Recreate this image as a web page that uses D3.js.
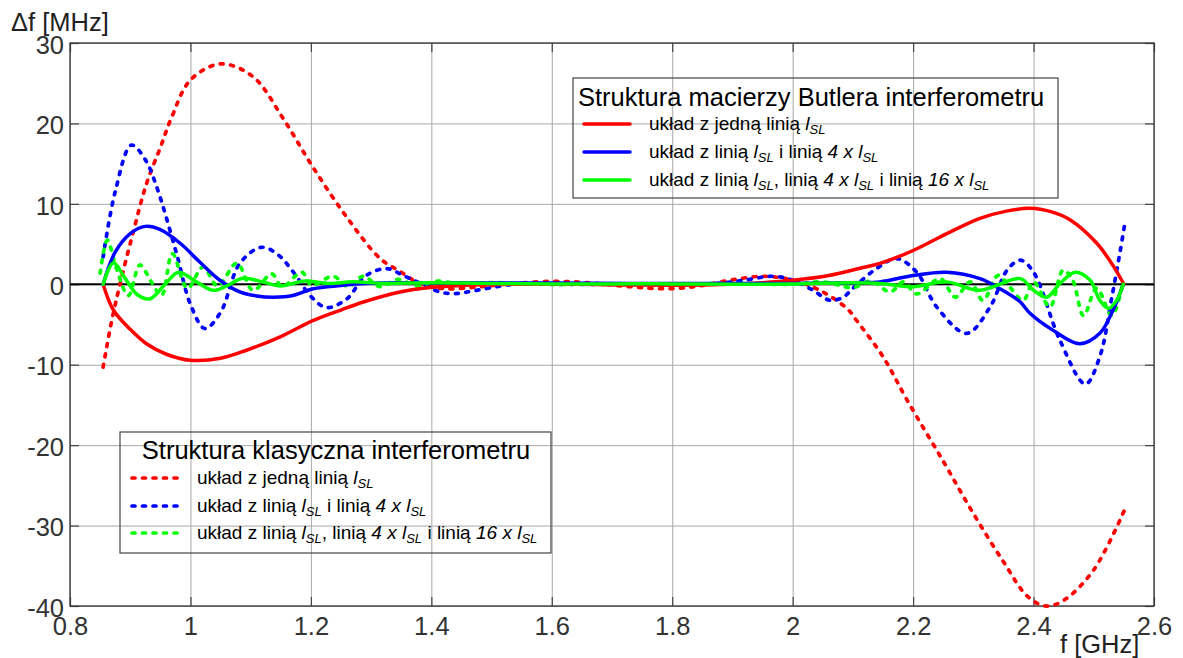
<!DOCTYPE html>
<html>
<head>
<meta charset="utf-8">
<script src="https://cdn.jsdelivr.net/npm/d3@7"></script>
<style>
body { margin: 0; background: #fff; }
text { font-family: "Liberation Sans", Arial, sans-serif; }
</style>
</head>
<body>
<script>
// tick values and labels
var xTicks = [0.8, 1.0, 1.2, 1.4, 1.6, 1.8, 2.0, 2.2, 2.4, 2.6];
var xTickLabels = ["0.8", "1", "1.2", "1.4", "1.6", "1.8", "2", "2.2", "2.4", "2.6"];
var yTicks = [-40, -30, -20, -10, 0, 10, 20, 30];
var yTickLabels = ["-40", "-30", "-20", "-10", "0", "10", "20", "30"];

// klasyczna, jedna linia (red dashed)
var redDashF = [0.855, 0.868, 0.883, 0.905, 0.927, 0.95, 0.969, 1.0, 1.05, 1.104, 1.154, 1.203, 1.26, 1.315, 1.348, 1.381, 1.425, 1.481, 1.536, 1.602, 1.658, 1.73, 1.791, 1.841, 1.896, 1.951, 2.0, 2.045, 2.09, 2.106, 2.15, 2.19, 2.25, 2.3, 2.35, 2.39, 2.42, 2.45, 2.5, 2.552];
var redDashV = [-10.3, -5, 0, 6.5, 12.5, 17, 20.8, 25.4, 27.4, 25.8, 20.6, 14.6, 8.3, 3.2, 1.6, 0.1, -0.55, -0.3, 0.1, 0.37, 0.2, -0.3, -0.55, -0.25, 0.5, 1.0, 0.5, -0.75, -3.0, -4.5, -9, -14.4, -22, -28.5, -34.5, -38.8, -40, -39.3, -35.5, -27.9];

// Butler, jedna linia (red solid)
var redSolidF = [0.855, 0.872, 0.9, 0.927, 0.96, 1.0, 1.05, 1.093, 1.15, 1.204, 1.25, 1.287, 1.348, 1.398, 1.45, 1.536, 1.65, 1.75, 1.868, 1.95, 2.0, 2.06, 2.112, 2.145, 2.2, 2.256, 2.311, 2.355, 2.394, 2.43, 2.461, 2.505, 2.533, 2.55];
var redSolidV = [0, -3.2, -5.6, -7.4, -8.7, -9.45, -9.2, -8.2, -6.5, -4.5, -3.2, -2.2, -0.95, -0.4, -0.15, 0, 0, -0.1, -0.05, 0.2, 0.5, 1.1, 2.0, 2.6, 4.2, 6.3, 8.2, 9.1, 9.45, 9.0, 8.0, 5.1, 2.2, 0];

// klasyczna, l i 4l (blue dashed)
var blueDashF = [0.855, 0.875, 0.902, 0.925, 0.944, 0.977, 1.0, 1.024, 1.05, 1.082, 1.118, 1.145, 1.171, 1.2, 1.226, 1.26, 1.29, 1.326, 1.353, 1.38, 1.414, 1.44, 1.475, 1.536, 1.6, 1.7, 1.8, 1.87, 1.92, 1.967, 2.0, 2.034, 2.062, 2.084, 2.1, 2.14, 2.173, 2.206, 2.239, 2.289, 2.328, 2.356, 2.378, 2.4, 2.444, 2.486, 2.51, 2.53, 2.544, 2.552];
var blueDashV = [3.4, 11.5, 17.3, 15.5, 12.1, 3.8, -2.5, -5.5, -3.5, 2.6, 4.6, 3.7, 1.5, -1.5, -2.9, -1.8, 1.0, 1.95, 1.1, 0.2, -0.95, -1.15, -0.75, 0, 0, 0, 0, 0.1, 0.5, 1.0, 0.5, -0.75, -2.0, -1.6, -0.5, 2.0, 3.2, 1.5, -2.8, -6.1, -2.8, 1.75, 3.0, 1.5, -7.0, -12.4, -9.0, -1.6, 4.2, 7.75];

// Butler, l i 4l (blue solid)
var blueSolidF = [0.855, 0.875, 0.9, 0.925, 0.95, 0.983, 1.015, 1.049, 1.082, 1.11, 1.138, 1.17, 1.204, 1.25, 1.287, 1.35, 1.45, 1.6, 1.8, 2.0, 2.1, 2.145, 2.2, 2.256, 2.311, 2.344, 2.378, 2.394, 2.432, 2.477, 2.51, 2.532, 2.549];
var blueSolidV = [0, 4.0, 6.3, 7.2, 6.8, 5.1, 2.8, 0.5, -0.95, -1.45, -1.6, -1.4, -0.55, -0.15, 0.1, 0.2, 0.2, 0.15, 0.1, 0.1, 0.2, 0.3, 1.1, 1.5, 0.7, -0.55, -2.2, -3.6, -5.7, -7.4, -6.1, -3.2, 0];

// klasyczna, l, 4l i 16l (green dashed)
var greenDashF = [0.85, 0.862, 0.877, 0.897, 0.916, 0.935, 0.952, 0.97, 0.995, 1.021, 1.045, 1.077, 1.104, 1.135, 1.152, 1.185, 1.201, 1.237, 1.262, 1.287, 1.315, 1.345, 1.375, 1.41, 1.45, 1.5, 1.6, 1.7, 1.8, 1.9, 2.0, 2.05, 2.1, 2.13, 2.162, 2.184, 2.206, 2.245, 2.27, 2.295, 2.316, 2.341, 2.36, 2.383, 2.4, 2.427, 2.449, 2.465, 2.483, 2.505, 2.53, 2.549];
var greenDashV = [1.4, 5.5, 2.0, -1.4, 2.4, 0.3, -1.4, 3.8, -0.5, 2.15, -0.2, 2.6, -0.75, 1.3, -0.3, 1.5, -0.1, 1.0, -0.3, 1.0, -0.3, 0.6, -0.2, 0.4, 0, 0.2, 0, 0.05, 0, 0.1, 0, 0.3, -0.4, 0.4, -0.95, 0.3, -1.2, 0.7, -1.6, 0.3, -2.0, 1.1, -0.3, -2.0, 0.3, -2.8, 1.75, 0.5, -3.9, -0.5, -3.9, 0.5];

// Butler, l, 4l i 16l (green solid)
var greenSolidF = [0.855, 0.872, 0.891, 0.912, 0.933, 0.958, 0.98, 1.01, 1.038, 1.06, 1.087, 1.12, 1.15, 1.19, 1.23, 1.27, 1.32, 1.4, 1.5, 1.6, 1.7, 1.8, 1.9, 2.0, 2.1, 2.145, 2.2, 2.256, 2.311, 2.378, 2.4, 2.422, 2.444, 2.469, 2.494, 2.51, 2.524, 2.538, 2.549];
var greenSolidV = [0, 2.65, 0.8, -1.3, -1.8, 0, 1.5, 0.3, -0.75, -0.2, 0.75, 0.3, -0.2, 0.4, 0.1, 0.3, 0.1, 0.2, 0.1, 0.05, 0.05, 0.05, 0, 0.05, 0.2, 0.1, -0.3, 0.3, -0.75, 0.7, -0.75, -1.6, 0.1, 1.5, 0.5, -2.0, -3.0, -2.0, 0];

var W = 1183, H = 658;
var pL = 70, pR = 1154, pT = 43, pB = 606;
var labelFont = "25.5px";
var dashPattern = "3,7.5";

var svg = d3.select("body").append("svg").attr("width", W).attr("height", H);

var x = d3.scaleLinear().domain([0.8, 2.6]).range([pL, pR]);
var y = d3.scaleLinear().domain([-40, 30]).range([pB, pT]);

// grid
svg.append("g")
    .attr("transform", "translate(0," + pB + ")")
    .call(d3.axisBottom(x).tickValues(xTicks).tickSize(-(pB - pT)).tickFormat(""))
    .call(g => g.select(".domain").remove())
    .selectAll("line").attr("stroke", "#a8a8a8").attr("stroke-width", 1);

svg.append("g")
    .attr("transform", "translate(" + pL + ",0)")
    .call(d3.axisLeft(y).tickValues(yTicks).tickSize(-(pR - pL)).tickFormat(""))
    .call(g => g.select(".domain").remove())
    .selectAll("line").attr("stroke", "#a8a8a8").attr("stroke-width", 1);

// inner tick marks on all four sides
var tickLen = -9;
[
  [d3.axisBottom(x).tickValues(xTicks), "translate(0," + pB + ")"],
  [d3.axisTop(x).tickValues(xTicks), "translate(0," + pT + ")"],
  [d3.axisLeft(y).tickValues(yTicks), "translate(" + pL + ",0)"],
  [d3.axisRight(y).tickValues(yTicks), "translate(" + pR + ",0)"]
].forEach(function(a) {
  svg.append("g")
      .attr("transform", a[1])
      .call(a[0].tickSize(tickLen).tickFormat(""))
      .call(g => g.select(".domain").remove())
      .selectAll("line").attr("stroke", "#444").attr("stroke-width", 1.2);
});

// frame
svg.append("rect")
    .attr("x", pL).attr("y", pT)
    .attr("width", pR - pL).attr("height", pB - pT)
    .attr("fill", "none").attr("stroke", "#333").attr("stroke-width", 1.3);

// zero line
svg.append("line")
    .attr("x1", pL).attr("x2", pR)
    .attr("y1", y(0)).attr("y2", y(0))
    .attr("stroke", "#000").attr("stroke-width", 2);

// tick labels
svg.append("g")
    .attr("transform", "translate(0," + pB + ")")
    .call(d3.axisBottom(x).tickValues(xTicks).tickSize(0).tickPadding(11)
      .tickFormat((d, i) => xTickLabels[i]))
    .call(g => g.select(".domain").remove())
    .selectAll("text").attr("font-size", labelFont).attr("fill", "#333")
      .style("font-family", "'Liberation Sans', Arial, sans-serif");

svg.append("g")
    .attr("transform", "translate(" + pL + ",0)")
    .call(d3.axisLeft(y).tickValues(yTicks).tickSize(0).tickPadding(6)
      .tickFormat((d, i) => yTickLabels[i]))
    .call(g => g.select(".domain").remove())
    .selectAll("text").attr("font-size", labelFont).attr("fill", "#333").attr("dy", "0.4em")
      .style("font-family", "'Liberation Sans', Arial, sans-serif");

// axis titles
svg.append("text").attr("x", 11).attr("y", 31)
    .attr("font-size", labelFont).attr("fill", "#222").text("Δf [MHz]");
svg.append("text").attr("x", 1060).attr("y", 653)
    .attr("font-size", labelFont).attr("fill", "#222").text("f [GHz]");

// curves
var line = d3.line()
    .x(d => x(d[0]))
    .y(d => y(d[1]))
    .curve(d3.curveCatmullRom.alpha(0.5));

function pts(fs, vs) { return fs.map((f, i) => [f, vs[i]]); }

var series = [
  {f: redDashF, v: redDashV, c: "#ff0000", dash: true},
  {f: blueDashF, v: blueDashV, c: "#0000ff", dash: true},
  {f: greenDashF, v: greenDashV, c: "#00ff00", dash: true},
  {f: redSolidF, v: redSolidV, c: "#ff0000", dash: false},
  {f: blueSolidF, v: blueSolidV, c: "#0000ff", dash: false},
  {f: greenSolidF, v: greenSolidV, c: "#00ff00", dash: false}
];

svg.append("g").selectAll("path")
    .data(series)
    .enter().append("path")
    .attr("d", d => line(pts(d.f, d.v)))
    .attr("fill", "none")
    .attr("stroke", d => d.c)
    .attr("stroke-width", d => d.dash ? 3.7 : 3.5)
    .attr("stroke-linecap", "round")
    .attr("stroke-dasharray", d => d.dash ? dashPattern : null);

// legend entries text builder
function entry(g, tx, ty, parts) {
  var t = g.append("text").attr("x", tx).attr("y", ty).attr("font-size", "19px").attr("fill", "#000");
  parts.forEach(function(p) {
    var s = t.append("tspan").text(p[0]);
    if (p[1] === "i") s.attr("font-style", "italic");
    if (p[1] === "sub") s.attr("font-style", "italic").attr("font-size", "13px").attr("dy", 4);
    if (p[1] === "up") s.attr("dy", -4);
  });
}

var legendTexts = [
  [["układ z jedną linią "], ["l", "i"], ["SL", "sub"]],
  [["układ z linią "], ["l", "i"], ["SL", "sub"], [" i linią ", "up"], ["4 x l", "i"], ["SL", "sub"]],
  [["układ z linią "], ["l", "i"], ["SL", "sub"], [", linią ", "up"], ["4 x l", "i"], ["SL", "sub"], [" i linią ", "up"], ["16 x l", "i"], ["SL", "sub"]]
];
var lineColors = ["#ff0000", "#0000ff", "#00ff00"];

// Butler legend
var lg1 = svg.append("g");
lg1.append("rect").attr("x", 573).attr("y", 78).attr("width", 485).attr("height", 120)
    .attr("fill", "none").attr("stroke", "#444").attr("stroke-width", 1.2);
lg1.append("text").attr("x", 578).attr("y", 106).attr("font-size", "25.5px").attr("fill", "#000")
    .text("Struktura macierzy Butlera interferometru");
[124, 152, 180].forEach(function(ly, i) {
  lg1.append("line").attr("x1", 584).attr("x2", 630).attr("y1", ly).attr("y2", ly)
      .attr("stroke", lineColors[i]).attr("stroke-width", 3.5).attr("stroke-linecap", "round");
  entry(lg1, 649, ly + 6, legendTexts[i]);
});

// classic legend
var lg2 = svg.append("g");
lg2.append("rect").attr("x", 120).attr("y", 432).attr("width", 431).attr("height", 121)
    .attr("fill", "none").attr("stroke", "#444").attr("stroke-width", 1.2);
lg2.append("text").attr("x", 336).attr("y", 459).attr("text-anchor", "middle")
    .attr("font-size", "25.5px").attr("fill", "#000")
    .text("Struktura klasyczna interferometru");
[478, 506, 533].forEach(function(ly, i) {
  lg2.append("line").attr("x1", 132).attr("x2", 178).attr("y1", ly).attr("y2", ly)
      .attr("stroke", lineColors[i]).attr("stroke-width", 3.7)
      .attr("stroke-linecap", "round").attr("stroke-dasharray", dashPattern);
  entry(lg2, 197, ly + 6, legendTexts[i]);
});
</script>
</body>
</html>
